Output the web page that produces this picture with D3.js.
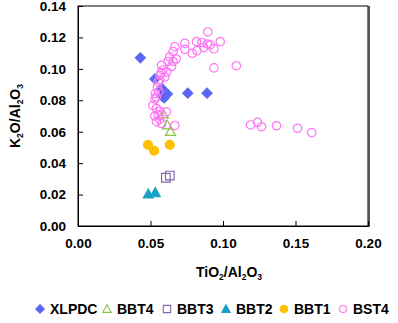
<!DOCTYPE html>
<html>
<head>
<meta charset="utf-8">
<script src="https://cdn.jsdelivr.net/npm/d3@7"></script>
<style>
  html, body { margin: 0; padding: 0; background: #fff; }
  svg { display: block; font-family: "Liberation Sans", Arial, sans-serif; font-weight: bold; }
</style>
</head>
<body>
<svg id="chart" width="398" height="323"></svg>
<script>
// TiO2/Al2O3 vs K2O/Al2O3 ratios for each sample group
const xlpdcX = [0.043, 0.053, 0.0577, 0.0594, 0.0617, 0.0578, 0.0757, 0.089];
const xlpdcY = [0.107, 0.0936, 0.0877, 0.0815, 0.084, 0.0828, 0.0845, 0.0845];

const bbt4X = [0.0588, 0.0615, 0.0638];
const bbt4Y = [0.0713, 0.0643, 0.0602];

const bbt3X = [0.0606, 0.0633];
const bbt3Y = [0.0307, 0.0321];

const bbt2X = [0.0485, 0.0533];
const bbt2Y = [0.0204, 0.0213];

const bbt1X = [0.0483, 0.0525, 0.0633];
const bbt1Y = [0.0516, 0.0479, 0.0516];

const bst4X = [0.0895, 0.0981, 0.0817, 0.0854, 0.0892, 0.0912, 0.0737, 0.0737, 0.0788, 0.0821,
               0.0868, 0.0937, 0.0937, 0.1092, 0.0668, 0.0656, 0.0633, 0.0678, 0.0621, 0.0656,
               0.0576, 0.0645, 0.0585, 0.0612, 0.0574, 0.0564, 0.0599, 0.0564, 0.0552, 0.0547,
               0.0557, 0.0533, 0.054, 0.053, 0.0516, 0.054, 0.0564, 0.053, 0.0552, 0.0564,
               0.061, 0.0578, 0.0541, 0.0668, 0.119, 0.1238, 0.1266, 0.1369, 0.1514, 0.1612];
const bst4Y = [0.1235, 0.1173, 0.1173, 0.1168, 0.1158, 0.1152, 0.1162, 0.1124, 0.1099, 0.1116,
               0.1135, 0.1127, 0.1006, 0.102, 0.1141, 0.111, 0.1076, 0.1063, 0.1047, 0.1047,
               0.1022, 0.1015, 0.0993, 0.098, 0.0976, 0.0958, 0.0948, 0.0929, 0.0917, 0.0885,
               0.0855, 0.0843, 0.0821, 0.0808, 0.0767, 0.0748, 0.0729, 0.07, 0.0707, 0.0678,
               0.0726, 0.0652, 0.0664, 0.064, 0.0643, 0.066, 0.0632, 0.0638, 0.0622, 0.0594];

const xTicks = [0, 0.05, 0.10, 0.15, 0.20];
const yTicks = [0, 0.02, 0.04, 0.06, 0.08, 0.10, 0.12, 0.14];

const series = [
  { name: "XLPDC", xs: xlpdcX, ys: xlpdcY, shape: "diamond", fill: "#5a67f2", stroke: "#5a67f2", r: 5 },
  { name: "BBT4",  xs: bbt4X,  ys: bbt4Y,  shape: "triangle", fill: "none", stroke: "#8cc04a", r: 5 },
  { name: "BBT3",  xs: bbt3X,  ys: bbt3Y,  shape: "square", fill: "none", stroke: "#8467a8", r: 4.3 },
  { name: "BBT2",  xs: bbt2X,  ys: bbt2Y,  shape: "triangle", fill: "#18a3c6", stroke: "#18a3c6", r: 5 },
  { name: "BBT1",  xs: bbt1X,  ys: bbt1Y,  shape: "circle", fill: "#ffc000", stroke: "#ffc000", r: 4.5 },
  { name: "BST4",  xs: bst4X,  ys: bst4Y,  shape: "circle", fill: "none", stroke: "#ff74f4", r: 4.2 }
];

// marker outline centred on the origin
function marker(shape, r) {
  if (shape === "diamond") return `M0,${-r}L${r},0L0,${r}L${-r},0Z`;
  if (shape === "triangle") return `M0,${-r}L${r},${r * 0.8}L${-r},${r * 0.8}Z`;
  if (shape === "square") return `M${-r},${-r}H${r}V${r}H${-r}Z`;
  return d3.arc()({ innerRadius: 0, outerRadius: r, startAngle: 0, endAngle: 2 * Math.PI });
}

const svg = d3.select("#chart");
const margin = { left: 78, right: 30, top: 6, bottom: 97 };
const W = 398, H = 323;
const x = d3.scaleLinear().domain([0, 0.2]).range([margin.left, W - margin.right]);
const y = d3.scaleLinear().domain([0, 0.14]).range([H - margin.bottom, margin.top]);

// plot frame
svg.append("rect")
  .attr("x", x(0)).attr("y", y(0.14))
  .attr("width", x(0.2) - x(0)).attr("height", y(0) - y(0.14))
  .attr("fill", "#fff").attr("stroke", "#000").attr("stroke-width", 1);
svg.append("line")
  .attr("x1", x(0.2) + 1).attr("x2", x(0.2) + 1)
  .attr("y1", y(0.14)).attr("y2", y(0) + 1)
  .attr("stroke", "#555").attr("stroke-width", 2);

// axes with inward ticks
const xAxis = d3.axisBottom(x).tickValues(xTicks).tickFormat(d3.format(".2f"))
  .tickSizeInner(-5).tickSizeOuter(0).tickPadding(12);
const gx = svg.append("g").attr("transform", `translate(0,${y(0)})`).call(xAxis);
const yAxis = d3.axisLeft(y).tickValues(yTicks).tickFormat(d3.format(".2f"))
  .tickSizeInner(-5).tickSizeOuter(0).tickPadding(12);
const gy = svg.append("g").attr("transform", `translate(${x(0)},0)`).call(yAxis);
[gx, gy].forEach(g => {
  g.select(".domain").attr("stroke", "#000");
  g.selectAll(".tick line").attr("stroke", "#000");
  g.selectAll("text").attr("fill", "#000")
    .style("font-family", "'Liberation Sans', Arial, sans-serif")
    .style("font-weight", "bold").style("font-size", "13.5px");
});

// axis titles with subscripts
function ratioTitle(g, parts) {
  const t = g.append("text").attr("text-anchor", "middle").attr("fill", "#000")
    .style("font-size", "14px").style("font-weight", "bold");
  parts.forEach(p => {
    const s = t.append("tspan").text(p.t);
    if (p.sub) s.style("font-size", "8.5px").attr("dy", 3);
    else if (p.after) s.attr("dy", -3);
  });
  return t;
}
const xt = svg.append("g").attr("transform", `translate(229,277)`);
ratioTitle(xt, [{ t: "TiO" }, { t: "2", sub: true }, { t: "/Al", after: true }, { t: "2", sub: true }, { t: "O", after: true }, { t: "3", sub: true }]);
const yt = svg.append("g").attr("transform", `translate(20,${(y(0) + y(0.14)) / 2}) rotate(-90)`);
ratioTitle(yt, [{ t: "K" }, { t: "2", sub: true }, { t: "O/Al", after: true }, { t: "2", sub: true }, { t: "O", after: true }, { t: "3", sub: true }]);

// data points
series.forEach(s => {
  svg.append("g").selectAll("path")
    .data(s.xs.map((v, i) => [v, s.ys[i]]))
    .join("path")
    .attr("d", marker(s.shape, s.r))
    .attr("transform", d => `translate(${x(d[0])},${y(d[1])})`)
    .attr("fill", s.fill).attr("stroke", s.stroke).attr("stroke-width", 1.2);
});

// legend
const legendPos = [40, 107, 167, 226, 284, 343];
const leg = svg.append("g").attr("transform", "translate(0,309)");
series.forEach((s, i) => {
  const g = leg.append("g").attr("transform", `translate(${legendPos[i]},0)`);
  g.append("path").attr("d", marker(s.shape, s.r * 0.85))
    .attr("fill", s.fill).attr("stroke", s.stroke).attr("stroke-width", 1.1);
  g.append("text").attr("x", 10).attr("y", 5).attr("fill", "#000")
    .style("font-size", "14px").style("font-weight", "bold").text(s.name);
});
</script>
</body>
</html>
